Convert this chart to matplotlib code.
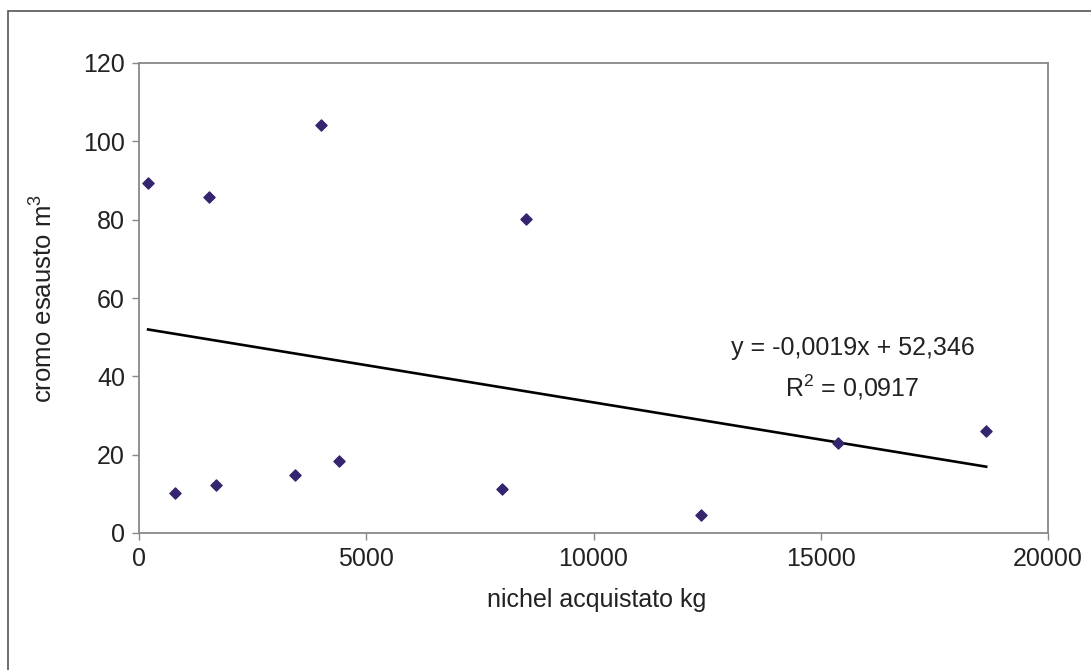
import numpy as np
import matplotlib
matplotlib.use('Agg')
import matplotlib.pyplot as plt
from matplotlib.patches import Rectangle

# data
nichel_kg = [200, 800, 1540, 1700, 3430, 4000, 4400, 7990, 8520, 12370, 15380, 18640]
cromo_m3 = [89.4, 10.2, 85.8, 12.3, 14.8, 104.2, 18.4, 11.2, 80.2, 4.6, 23.0, 26.0]

slope = -0.0019
intercept = 52.346
eq_text = 'y = -0,0019x + 52,346'
r2_text = 'R$^2$ = 0,0917'

x_ticks = [0, 5000, 10000, 15000, 20000]
y_ticks = [0, 20, 40, 60, 80, 100, 120]

plt.rcParams['font.family'] = ['Liberation Sans', 'DejaVu Sans']
plt.rcParams['mathtext.fontset'] = 'custom'
plt.rcParams['mathtext.rm'] = 'Liberation Sans'

fig = plt.figure(figsize=(10.91, 6.70), dpi=100)
# outer frame of the picture (cut at right and bottom)
fig.patches.append(Rectangle((8 / 1091, -0.05), 1.2, 1 - 11 / 670 + 0.05,
                             transform=fig.transFigure, fill=False,
                             edgecolor='#555555', linewidth=1.2))

ax = fig.add_axes([139 / 1091, 1 - 533 / 670, (1048 - 139) / 1091, (533 - 63) / 670])

ax.scatter(nichel_kg, cromo_m3, marker='D', s=32, color='#35246e', zorder=3)

xs = np.array([min(nichel_kg), max(nichel_kg)])
ax.plot(xs, slope * xs + intercept, color='black', linewidth=1.9, zorder=2)

ax.text(15700, 47.2, eq_text, ha='center', va='center', fontsize=18, color='#222222')
ax.text(15700, 37.3, r2_text, ha='center', va='center', fontsize=18, color='#222222')

ax.set_xlim(0, 20000)
ax.set_ylim(0, 120)
ax.set_xticks(x_ticks)
ax.set_yticks(y_ticks)
ax.tick_params(direction='out', length=5, width=1, colors='#888888',
               labelcolor='#222222', labelsize=18, pad=5)

for s in ax.spines.values():
    s.set_color('#888888')
    s.set_linewidth(1.3)

ax.set_xlabel('nichel acquistato kg', fontsize=18, color='#222222')
ax.set_ylabel('cromo esausto m$^3$', fontsize=18.5, color='#222222')
ax.xaxis.set_label_coords(0.503, -0.1426)
ax.yaxis.set_label_coords(-0.1056, 0.5)
ax.xaxis.label.set_va('center')
ax.yaxis.label.set_va('center')

fig.savefig('out.png', dpi=100)
